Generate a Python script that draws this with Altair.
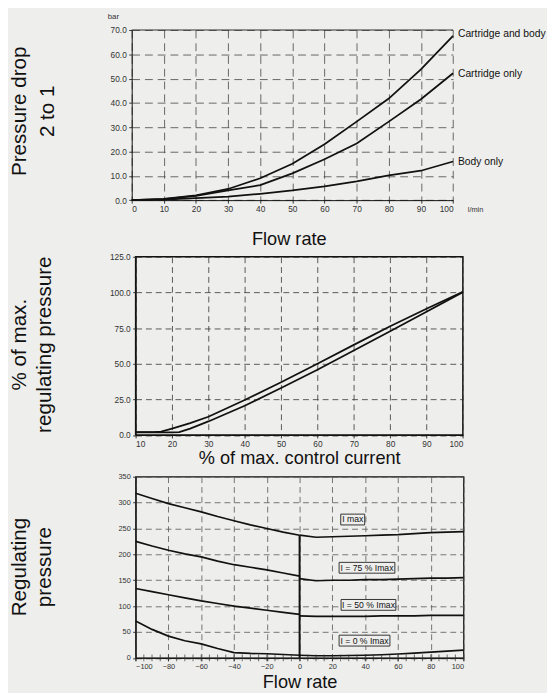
import altair as alt
import pandas as pd

FONT = "Liberation Sans"
BG = "#eeeeec"
INK = "#111111"

# ---------------- Panel 1: pressure drop vs flow rate ----------------
flow_top = [0, 10, 20, 30, 40, 50, 60, 70, 80, 90, 100]
cart_body = [0, 0.5, 2, 4.6, 9, 15, 23, 32.3, 41.8, 53.8, 67.6]
cart_only = [0, 0.4, 1.8, 4.0, 6.2, 11, 16.8, 23.3, 32.3, 41.5, 52.2]
body_only = [0, 0.2, 0.8, 1.4, 2.6, 4, 5.7, 7.7, 10.2, 12.1, 15.9]
top_names = ["Cartridge and body", "Cartridge only", "Body only"]
top_label_y = [68.3, 51.7, 15.8]
top_x_ticks = [0, 10, 20, 30, 40, 50, 60, 70, 80, 90, 100]
top_y_ticks = [0, 10, 20, 30, 40, 50, 60, 70]

# ---------------- Panel 2: % regulating pressure vs % control current ----------------
ctrl_up = [10, 15, 17, 20, 25, 30, 40, 50, 60, 70, 80, 90, 100]
press_up = [2, 2, 2.3, 4.5, 8.3, 12.8, 24.5, 37, 50, 63.2, 76.3, 88.6, 100.5]
ctrl_lo = [10, 15, 20, 22, 25, 30, 40, 50, 60, 70, 80, 90, 100]
press_lo = [1.8, 1.8, 1.8, 2, 4.5, 9.5, 20.5, 33, 45.8, 59.3, 72.8, 86.5, 100.2]
mid_x_ticks = [10, 20, 30, 40, 50, 60, 70, 80, 90, 100]
mid_y_ticks = [0, 25, 50, 75, 100, 125]

# ---------------- Panel 3: regulating pressure vs flow rate ----------------
flow_neg = [-100, -90, -80, -70, -60, -50, -40, -30, -20, -10, 0]
flow_pos = [0, 10, 20, 30, 40, 50, 60, 70, 80, 90, 100]
imax_neg = [318, 308, 298, 290, 282, 273, 265, 257, 250, 243, 237]
imax_pos = [237, 233, 234, 235, 236, 237, 238, 240, 242, 243, 244]
i75_neg = [225, 216, 208, 201, 195, 187, 180, 175, 170, 164, 158]
i75_pos = [153, 149, 150, 150, 151, 151, 152, 153, 154, 154, 155]
i50_neg = [134, 128, 122, 116, 110, 105, 100, 96, 92, 88, 84]
i50_pos = [81, 80, 80, 80, 80, 81, 81, 81, 82, 82, 82]
i0_neg = [71, 55, 42, 33, 27, 18, 10, 8.5, 8, 6.5, 5]
i0_pos = [5, 4, 4, 4.5, 5, 6, 7.5, 9, 11, 13, 15]
curve_names = ["I max", "I = 75 % Imax", "I = 50 % Imax", "I = 0 % Imax"]
box_x1 = [25.1, 24.1, 25.3, 24.1]
box_x2 = [39.7, 58.1, 58.7, 55.1]
box_y1 = [256.8, 163.6, 91.9, 22.8]
box_y2 = [277.7, 184.5, 112.8, 43.8]
jump_top = 237
bot_x_ticks = [-100, -80, -60, -40, -20, 0, 20, 40, 60, 80, 100]
bot_x_minor = list(range(-100, 101, 5))
bot_y_ticks = [0, 50, 100, 150, 200, 250, 300, 350]

# ---------------- build tables ----------------
top_rows = []
for name, vals in zip(top_names, [cart_body, cart_only, body_only]):
    for f, v in zip(flow_top, vals):
        top_rows.append({"flow": f, "drop": v, "series": name})
df_top = pd.DataFrame(top_rows)
df_top_lab = pd.DataFrame({"flow": [100] * 3, "drop": top_label_y, "name": top_names})
df_top_rule = pd.DataFrame({"flow": [0], "flow2": [100], "drop": [70]})
df_bar = pd.DataFrame({"flow": [0], "drop": [70], "t": ["bar"]})
df_lmin = pd.DataFrame({"flow": [100], "drop": [0], "t": ["l/min"]})

mid_rows = []
for c, p in zip(ctrl_up, press_up):
    mid_rows.append({"ctrl": c, "press": p, "series": "up"})
for c, p in zip(ctrl_lo, press_lo):
    mid_rows.append({"ctrl": c, "press": p, "series": "lo"})
df_mid = pd.DataFrame(mid_rows)

bot_rows = []
for name, neg, pos in zip(curve_names, [imax_neg, i75_neg, i50_neg, i0_neg],
                          [imax_pos, i75_pos, i50_pos, i0_pos]):
    for f, v in zip(flow_neg, neg):
        bot_rows.append({"flow": f, "p": v, "seg": name + " neg"})
    for f, v in zip(flow_pos, pos):
        bot_rows.append({"flow": f, "p": v, "seg": name + " pos"})
df_bot = pd.DataFrame(bot_rows)
df_box = pd.DataFrame({"x1": box_x1, "x2": box_x2, "y1": box_y1, "y2": box_y2,
                       "name": curve_names})
df_box["xc"] = (df_box.x1 + df_box.x2) / 2
df_box["yc"] = (df_box.y1 + df_box.y2) / 2
df_jump = pd.DataFrame({"flow": [0], "p": [0], "p2": [jump_top]})
df_minor = pd.DataFrame({"flow": bot_x_minor, "p": [0] * len(bot_x_minor)})

LAB = dict(labelFont=FONT, labelColor="#333333", labelOverlap=False,
           tickColor="#333333", domainColor=INK, titleFont=FONT,
           titleColor=INK, titleFontWeight="normal")
YT = dict(titleAngle=270, titleAlign="center", titleBaseline="top",
          titleFontSize=21)
XT = dict(titleFontSize=18.5, titleBaseline="alphabetic")

# ---------------- top chart ----------------
xs_top = alt.Scale(domain=[0, 100], range=[-4, 323.3], nice=False)
ys_top = alt.Scale(domain=[0, 70], nice=False)
xa_top = alt.Axis(
    values=top_x_ticks, title="Flow rate", titleY=45, titleX=156, tickSize=3,
    labelPadding=1.5, labelFontSize=8.5, grid=True, gridColor="#444444",
    gridDash=[8, 5], gridWidth=0.8, **LAB, **XT)
ya_top = alt.Axis(
    values=top_y_ticks, format=".1f", title=["Pressure drop", "2 to 1"],
    titleX=-124.7, titleY=82.3, titleLineHeight=28, offset=4, tickSize=3,
    labelPadding=2.5, labelFontSize=8.5, grid=True, gridColor="#444444",
    gridDash=[8, 5], gridWidth=0.8, **LAB, **YT)


def xt(field):
    return alt.X(field, scale=xs_top, axis=xa_top)


def yt(field):
    return alt.Y(field, scale=ys_top, axis=ya_top)


lines_top = alt.Chart(df_top).mark_line(color=INK, strokeWidth=1.8).encode(
    x=xt("flow:Q"), y=yt("drop:Q"), detail="series:N")
rule_top = alt.Chart(df_top_rule).mark_rule(color="#333333", strokeWidth=1.2).encode(
    x=xt("flow:Q"), x2="flow2:Q", y=yt("drop:Q"))
lab_top = alt.Chart(df_top_lab).mark_text(
    align="left", baseline="middle", dx=5, font=FONT, fontSize=10.5, color=INK).encode(
    x=xt("flow:Q"), y=yt("drop:Q"), text="name:N")
bar_txt = alt.Chart(df_bar).mark_text(
    align="center", baseline="middle", dx=-18.7, dy=-13.7, font=FONT, fontSize=8,
    color="#333333").encode(x=xt("flow:Q"), y=yt("drop:Q"), text="t:N")
lmin_txt = alt.Chart(df_lmin).mark_text(
    align="left", baseline="middle", dx=15, dy=10, font=FONT, fontSize=7.5,
    color="#333333").encode(x=xt("flow:Q"), y=yt("drop:Q"), text="t:N")
top = alt.layer(lines_top, rule_top, lab_top, bar_txt, lmin_txt).properties(
    width=323.3, height=173.3, view=alt.ViewBackground(stroke="transparent"))

# ---------------- middle chart ----------------
mid = alt.Chart(df_mid).mark_line(color=INK, strokeWidth=1.8).encode(
    x=alt.X("ctrl:Q", scale=alt.Scale(domain=[10, 100], nice=False), axis=alt.Axis(
        values=mid_x_ticks, title="% of max. control current", titleY=29.5,
        tickSize=3, labelPadding=2, labelFontSize=8.5, grid=True,
        gridColor="#333333", gridDash=[6, 4], gridWidth=0.8, **LAB, **XT)),
    y=alt.Y("press:Q", scale=alt.Scale(domain=[0, 125], nice=False), axis=alt.Axis(
        values=mid_y_ticks, format=".1f",
        title=["% of max.", "regulating pressure"], titleX=-128.7, titleY=89,
        titleLineHeight=25, tickSize=3, labelPadding=2.5, labelFontSize=8.5,
        grid=True, gridColor="#333333", gridDash=[6, 4], gridWidth=0.8,
        **LAB, **YT)),
    detail="series:N",
).properties(width=333.3, height=181.5,
             view=alt.ViewBackground(stroke=INK, strokeWidth=1.5))

# ---------------- bottom chart ----------------
xs_bot = alt.Scale(domain=[-100, 100], nice=False)
ys_bot = alt.Scale(domain=[0, 350], nice=False)
xa_bot = alt.Axis(
    values=bot_x_ticks, title="Flow rate", titleY=30.5, tickSize=3,
    labelPadding=2, labelFontSize=7.5, grid=True, gridColor="#555555",
    gridDash=[6, 4], gridWidth=0.8, **LAB, **XT)
ya_bot = alt.Axis(
    values=bot_y_ticks, title=["Regulating", "pressure"],
    titleX=-128.7, titleY=91.5, titleLineHeight=25, tickSize=3, labelPadding=2.5,
    labelFontSize=7.5, grid=True, gridColor="#555555", gridDash=[6, 4],
    gridWidth=0.8, **LAB, **YT)


def xb(field):
    return alt.X(field, scale=xs_bot, axis=xa_bot)


def yb(field):
    return alt.Y(field, scale=ys_bot, axis=ya_bot)


lines_bot = alt.Chart(df_bot).mark_line(color=INK, strokeWidth=1.7).encode(
    x=xb("flow:Q"), y=yb("p:Q"), detail="seg:N")
minor = alt.Chart(df_minor).mark_tick(color="#333333", thickness=1, size=7).encode(
    x=xb("flow:Q"), y=yb("p:Q"))
jump = alt.Chart(df_jump).mark_rule(color=INK, strokeWidth=2).encode(
    x=xb("flow:Q"), y=yb("p:Q"), y2="p2:Q")
boxes = alt.Chart(df_box).mark_rect(fill=BG, stroke="#333333", strokeWidth=1).encode(
    x=xb("x1:Q"), x2="x2:Q", y=yb("y1:Q"), y2="y2:Q")
box_txt = alt.Chart(df_box).mark_text(
    align="center", baseline="middle", font=FONT, fontSize=8.8, color=INK).encode(
    x=xb("xc:Q"), y=yb("yc:Q"), text="name:N")
bot = alt.layer(lines_bot, minor, jump, boxes, box_txt).properties(
    width=334, height=184.5, view=alt.ViewBackground(stroke=INK, strokeWidth=1.3))

chart = alt.vconcat(top, mid, bot, spacing=3).properties(
    background=BG, padding={"top": -3, "left": 0, "right": 0, "bottom": 0}
).configure_view(fill=BG)

chart.save("out.html", embed_options={"renderer": "svg", "actions": False})
